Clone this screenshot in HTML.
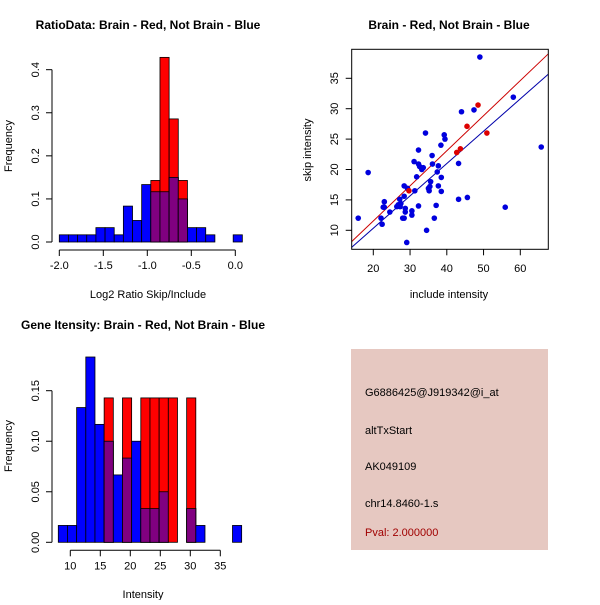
<!DOCTYPE html>
<html><head><meta charset="utf-8"><style>
body{margin:0;background:#fff}
svg text{font-family:"Liberation Sans",sans-serif;font-size:11px;fill:#000}
.t{font-weight:bold;font-size:12px}
</style></head><body>
<svg id="s" width="600" height="600" xmlns="http://www.w3.org/2000/svg">
<rect width="600" height="600" fill="#fff"/>
<text class="t" x="148" y="29" text-anchor="middle">RatioData: Brain - Red, Not Brain - Blue</text>
<text x="148" y="298" text-anchor="middle">Log2 Ratio Skip/Include</text>
<text x="12" y="146" text-anchor="middle" transform="rotate(-90 12 146)">Frequency</text>
<text class="t" x="449" y="29" text-anchor="middle">Brain - Red, Not Brain - Blue</text>
<text x="449" y="298" text-anchor="middle">include intensity</text>
<text x="311" y="150" text-anchor="middle" transform="rotate(-90 311 150)">skip intensity</text>
<text class="t" x="143" y="329" text-anchor="middle">Gene Itensity: Brain - Red, Not Brain - Blue</text>
<text x="143" y="598" text-anchor="middle">Intensity</text>
<text x="12" y="446" text-anchor="middle" transform="rotate(-90 12 446)">Frequency</text>
<rect x="351" y="349" width="197" height="201" fill="#E6C8C1"/>
<text x="365" y="396">G6886425@J919342@i_at</text>
<text x="365" y="434">altTxStart</text>
<text x="365" y="470">AK049109</text>
<text x="365" y="507">chr14.8460-1.s</text>
<text x="365" y="536" fill="#A00000" style="fill:#A00000">Pval: 2.000000</text>
</svg>
<script>
const ratioBlue=[1,1,1,1,2,2,1,5,3,8,7,7,9,6,2,2,1,0,0,1].map(v=>v/60);
const ratioRed=[0,0,0,0,0,0,0,0,0,0,1,3,2,1,0,0,0,0,0,0].map(v=>v/7);
const ratioStart=-2.0, ratioBin=0.104;
const ratioXTicks=[-2,-1.5,-1,-0.5,0], ratioXLabels=["-2.0","-1.5","-1.0","-0.5","0.0"];
const ratioYTicks=[0,0.1,0.2,0.3,0.4], ratioYLabels=["0.0","0.1","0.2","0.3","0.4"];
const intBlue=[1,1,8,11,7,6,4,5,6,2,2,3,0,0,2,1,0,0,0,1].map(v=>v/60);
const intRed=[0,0,0,0,0,1,0,1,0,1,1,1,1,0,1,0,0,0,0,0].map(v=>v/7);
const intStart=8.0, intBin=1.528;
const intXTicks=[10,15,20,25,30,35], intXLabels=["10","15","20","25","30","35"];
const intYTicks=[0,0.05,0.10,0.15], intYLabels=["0.00","0.05","0.10","0.15"];
const blueX=[15.9,18.6,22.1,22.4,23.0,23.0,22.7,24.5,26.4,26.8,27.2,27.5,27.3,28.0,28.4,28.4,28.4,28.7,28.7,29.1,29.3,30.5,30.5,31.1,31.3,31.8,32.3,32.3,32.6,32.3,33.2,33.6,34.2,34.5,35.0,35.2,35.6,35.4,36.0,36.1,36.6,37.1,37.4,37.7,37.7,38.4,38.5,38.5,39.3,39.5,43.2,43.2,44.0,45.6,47.4,49.0,55.9,58.1,65.7];
const blueY=[12.0,19.5,12.0,11.0,14.7,13.8,13.8,13.0,13.9,14.2,15.1,14.4,13.9,12.0,12.0,17.3,15.6,13.6,13.0,8.0,16.9,13.2,12.5,21.3,16.5,18.8,23.2,20.9,20.5,14.0,20.0,20.3,26.0,10.0,16.9,16.5,18.0,17.2,22.3,20.9,12.0,14.1,19.6,20.6,17.3,24.0,18.7,16.4,25.7,25.0,21.0,15.1,29.5,15.4,29.8,38.5,13.8,31.9,23.7];
const redX=[29.7,42.7,43.7,45.5,48.5,50.9];
const redY=[16.5,22.8,23.4,27.1,30.6,26.0];
const redFit=[0.0,0.577], blueFit=[-0.3,0.532];
const scXTicks=[20,30,40,50,60], scYTicks=[10,15,20,25,30,35];

const S=document.getElementById('s'),NS='http://www.w3.org/2000/svg';
function mk(t,a){const e=document.createElementNS(NS,t);for(const k in a)e.setAttribute(k,a[k]);S.appendChild(e);return e;}

function hist(blue,red,start,bin,xS,yS,xT,xL,yT,yL,pre){
  for(let i=0;i<blue.length;i++){
    const x0=xS(start+i*bin),x1=xS(start+(i+1)*bin);
    const b=blue[i],r=red[i],m=Math.min(b,r);
    if(b>0){const e=mk('rect',{x:x0,y:yS(b),width:x1-x0,height:yS(0)-yS(b),fill:'#0000FF',stroke:'#000','stroke-width':0.8});
      }
    if(r>0){const e=mk('rect',{x:x0,y:yS(r),width:x1-x0,height:yS(0)-yS(r),fill:'#FF0000',stroke:'#000','stroke-width':0.8});
      }
    if(m>0){const e=mk('rect',{x:x0,y:yS(m),width:x1-x0,height:yS(0)-yS(m),fill:'#800080',stroke:'#000','stroke-width':0.8});
      }
  }
  axes(xS,yS,xT,xL,yT,yL,pre,yS(0)+8,52);
}
function axes(xS,yS,xT,xL,yT,yL,pre,ay,ax){
  const xa=mk('line',{x1:xS(xT[0]),x2:xS(xT[xT.length-1]),y1:ay,y2:ay,stroke:'#000'});
  
  xT.forEach((v,i)=>{mk('line',{x1:xS(v),x2:xS(v),y1:ay,y2:ay+6,stroke:'#000'});
    const t=mk('text',{x:xS(v),y:ay+19,'text-anchor':'middle'});t.textContent=xL[i];
    });
  const ya=mk('line',{x1:ax,x2:ax,y1:yS(yT[0]),y2:yS(yT[yT.length-1]),stroke:'#000'});
  
  yT.forEach((v,i)=>{const y=yS(v);mk('line',{x1:ax-6,x2:ax,y1:y,y2:y,stroke:'#000'});
    const tx=ax-13;const t=mk('text',{x:tx,y:y,'text-anchor':'middle',transform:`rotate(-90 ${tx} ${y})`});t.textContent=yL[i];
    });
}
// ratio histogram
hist(ratioBlue,ratioRed,ratioStart,ratioBin,v=>59.3+(v+2)*88,v=>242-v*430.8,ratioXTicks,ratioXLabels,ratioYTicks,ratioYLabels,'ratio');
// intensity histogram
hist(intBlue,intRed,intStart,intBin,v=>70.3+(v-10)*6,v=>542.3-v*1010.7,intXTicks,intXLabels,intYTicks,intYLabels,'intensity');
// scatter
const sx=v=>373.3+(v-20)*3.675, sy=v=>230.3-(v-10)*6.08;
const X0=14.1,X1=67.6;
[[redFit,'#CC0000','red-fit-line'],[blueFit,'#0000AA','blue-fit-line']].forEach(([f,c,n])=>{
  const l=mk('line',{x1:sx(X0),y1:sy(f[0]+f[1]*X0),x2:sx(X1),y2:sy(f[0]+f[1]*X1),stroke:c,'stroke-width':1});
  });
blueX.forEach((x,i)=>{const c=mk('circle',{cx:sx(x),cy:sy(blueY[i]),r:2.8,fill:'#0000DD'});
  });
redX.forEach((x,i)=>{const c=mk('circle',{cx:sx(x),cy:sy(redY[i]),r:2.8,fill:'#DD0000'});
  });
// cover overflow outside box
const box=mk('rect',{x:351.7,y:49.3,width:196.6,height:200,fill:'none',stroke:'#000'});

scXTicks.forEach(v=>{mk('line',{x1:sx(v),x2:sx(v),y1:249.3,y2:255.3,stroke:'#000'});
  const t=mk('text',{x:sx(v),y:272,'text-anchor':'middle'});t.textContent=String(v);
  });
scYTicks.forEach(v=>{const y=sy(v);mk('line',{x1:345.7,x2:351.7,y1:y,y2:y,stroke:'#000'});
  const t=mk('text',{x:338,y:y,'text-anchor':'middle',transform:`rotate(-90 338 ${y})`});t.textContent=String(v);
  });
</script>
</body></html>
